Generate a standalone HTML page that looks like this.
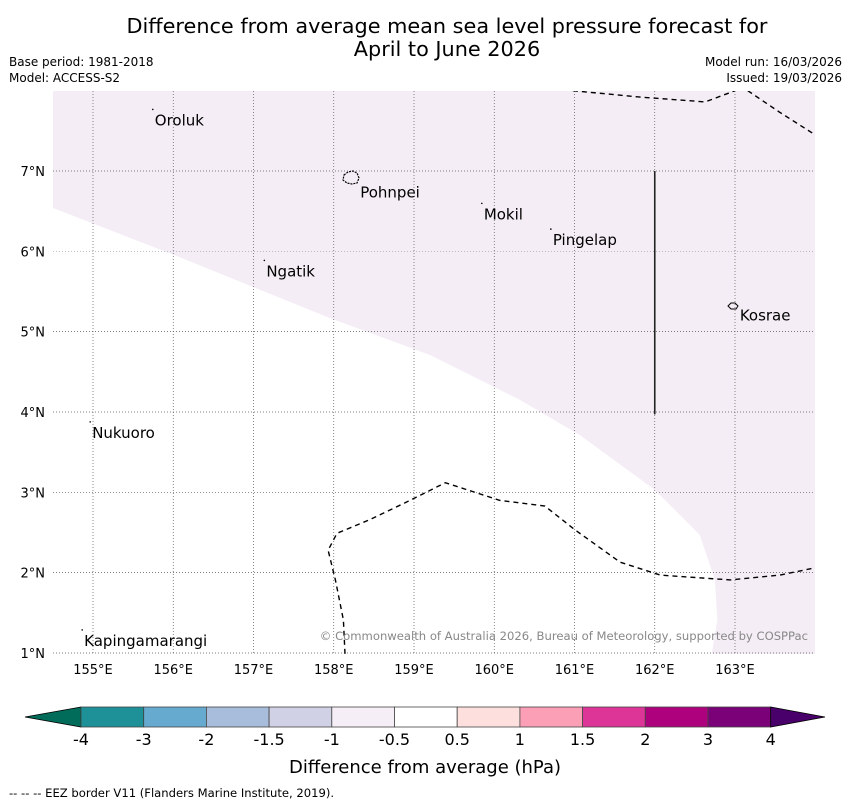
<!DOCTYPE html>
<html><head><meta charset="utf-8"><style>
body{margin:0;background:#fff;font-family:"Liberation Sans","DejaVu Sans",sans-serif}
svg{display:block}
</style></head><body>
<svg width="850" height="804" viewBox="0 0 850 804" font-family="DejaVu Sans, Liberation Sans, sans-serif">
<text x="447" y="33" font-size="20.8" text-anchor="middle">Difference from average mean sea level pressure forecast for</text>
<text x="447" y="56" font-size="20.8" text-anchor="middle">April to June 2026</text>
<text x="9" y="66" font-size="12">Base period: 1981-2018</text>
<text x="9" y="82" font-size="12">Model: ACCESS-S2</text>
<text x="842" y="66" font-size="12" text-anchor="end">Model run: 16/03/2026</text>
<text x="842" y="82" font-size="12" text-anchor="end">Issued: 19/03/2026</text>
<g id="map"></g>
<g id="cbar"></g>
<text x="425" y="773" font-size="18" text-anchor="middle">Difference from average (hPa)</text>
<text x="9" y="797" font-size="11.6">--  --  -- EEZ border V11 (Flanders Marine Institute, 2019).</text>
</svg>
<script>
const lonTicks=[155,156,157,158,159,160,161,162,163];
const latTicks=[1,2,3,4,5,6,7];
const whiteBoundLon=[154.5,156.02,157.95,159.2,160.32,161.07,162.0,162.56,162.75,162.78,162.71];
const whiteBoundLat=[6.54,5.95,5.17,4.71,4.15,3.71,3.03,2.47,1.91,1.41,0.99];
const dashTopALon=[160.98,161.82,162.63,163.0];
const dashTopALat=[8.0,7.92,7.86,8.0];
const dashTopBLon=[163.16,163.56,164.0];
const dashTopBLat=[8.0,7.73,7.45];
const dashBotLon=[158.14,158.12,158.02,157.93,158.04,158.45,158.95,159.39,160.07,160.63,161.01,161.57,162.07,162.94,163.56,164.0];
const dashBotLat=[0.99,1.41,1.91,2.28,2.49,2.66,2.90,3.12,2.90,2.83,2.53,2.13,1.97,1.91,1.97,2.06];
const islandNames=["Oroluk","Pohnpei","Mokil","Pingelap","Ngatik","Kosrae","Nukuoro","Kapingamarangi"];
const islandLon=[155.77,158.33,159.87,160.73,157.16,163.06,154.99,154.89];
const islandLat=[7.63,6.73,6.46,6.14,5.75,5.2,3.74,1.15];
const cbLevels=["-4","-3","-2","-1.5","-1","-0.5","0.5","1","1.5","2","3","4"];
const cbColors=["#1e9098","#67aacf","#a7bddb","#d0d1e5","#f5eef6","#ffffff","#fde0dd","#fa9fb5","#dd3497","#ae017e","#7a0177"];
const NS="http://www.w3.org/2000/svg";
const X0=53,X1=815,Y0=91,Y1=654;
const x=lon=>93+(lon-155)*80.25;
const y=lat=>171-(lat-7)*80.33;
function mk(t,a,p){const e=document.createElementNS(NS,t);for(const k in a)e.setAttribute(k,a[k]);p.appendChild(e);return e;}
const map=document.getElementById('map');
const defs=mk('defs',{},map);const cp=mk('clipPath',{id:'cp'},defs);mk('rect',{x:X0,y:Y0,width:X1-X0,height:Y1-Y0},cp);
const g=mk('g',{'clip-path':'url(#cp)'},map);
let d="M"+X0+","+Y0+" L"+X1+","+Y0+" L"+X1+","+Y1+" ";
for(let i=whiteBoundLon.length-1;i>=0;i--)d+="L"+x(whiteBoundLon[i]).toFixed(1)+","+y(whiteBoundLat[i]).toFixed(1)+" ";
d+="Z";
const shade=mk('path',{d:d,fill:'#f4edf5'},g);


lonTicks.forEach(l=>{const ln=mk('line',{x1:x(l),x2:x(l),y1:Y0,y2:Y1,stroke:'#555','stroke-width':0.7,'stroke-dasharray':'1,2'},g);


const t=mk('text',{x:x(l),y:674,'font-size':13,'text-anchor':'middle'},map);t.textContent=l+"°E";

});
latTicks.forEach(l=>{const ln=mk('line',{x1:X0,x2:X1,y1:y(l),y2:y(l),stroke:l==6?'#99a':'#555','stroke-width':0.7,'stroke-dasharray':'1,2'},g);


const t=mk('text',{x:45,y:y(l)+5,'font-size':13,'text-anchor':'end'},map);t.textContent=l+"°N";

});
function dash(lons,lats,name){let p="";lons.forEach((v,i)=>{p+=(i?"L":"M")+x(v).toFixed(1)+","+y(lats[i]).toFixed(1)+" ";});
const e=mk('path',{d:p,fill:'none',stroke:'#000','stroke-width':1.4,'stroke-dasharray':'5,4'},g);

}
dash(dashTopALon,dashTopALat,'eez-border-top');
dash(dashTopBLon,dashTopBLat,'eez-border-top-right');
dash(dashBotLon,dashBotLat,'eez-border-south');
const vl=mk('line',{x1:x(162),x2:x(162),y1:y(7),y2:y(3.97),stroke:'#222','stroke-width':1.6},g);


const po=mk('path',{d:"M344,175 l4,-3 l5,-1 l4,2 l2,5 l-2,5 l-5,1 l-5,-1 l-4,-3 z",fill:'none',stroke:'#000','stroke-width':1.2,'stroke-dasharray':'2,1'},g);


const ko=mk('path',{d:"M728,306 l3,-3 l4,0 l3,3 l-2,3 l-5,0 z",fill:'none',stroke:'#000','stroke-width':1},g);


const dotOff=[1,0,1,1,1,0,1,1];
islandNames.forEach((n,i)=>{const px=x(islandLon[i]),py=y(islandLat[i]);
if(dotOff[i]){const dt=mk('circle',{cx:px-2,cy:py-11,r:0.8,fill:'#000'},g);

}
const t=mk('text',{x:px,y:py+5,'font-size':15},g);t.textContent=n;

});
const cr=mk('text',{x:808,y:640,'font-size':11.6,fill:'#888','text-anchor':'end'},g);cr.textContent="© Commonwealth of Australia 2026, Bureau of Meteorology, supported by COSPPac";


const cb=document.getElementById('cbar');
const CX0=81,CW=62.7,CY=707,CH=20;
const lt=mk('path',{d:`M${CX0},${CY} L25,${CY+CH/2} L${CX0},${CY+CH} Z`,fill:'#016c59',stroke:'#000','stroke-width':0.8},cb);


cbColors.forEach((c,i)=>{const r=mk('rect',{x:CX0+i*CW,y:CY,width:CW,height:CH,fill:c,stroke:'#444','stroke-width':0.8},cb);

});
const XE=CX0+cbColors.length*CW;
const rt=mk('path',{d:`M${XE},${CY} L825,${CY+CH/2} L${XE},${CY+CH} Z`,fill:'#49006a',stroke:'#000','stroke-width':0.8},cb);


cbLevels.forEach((s,i)=>{const t=mk('text',{x:CX0+i*CW,y:745,'font-size':16,'text-anchor':'middle'},cb);t.textContent=s;

});
</script>
</body></html>
